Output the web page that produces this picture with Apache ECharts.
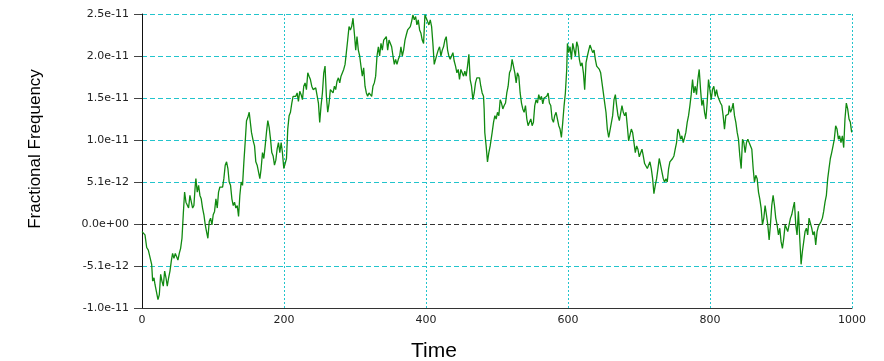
<!DOCTYPE html>
<html>
<head>
<meta charset="utf-8">
<script src="https://cdn.jsdelivr.net/npm/echarts@6/dist/echarts.min.js"></script>
<style>
  html, body { margin: 0; padding: 0; background: #ffffff; }
  #chart { width: 884px; height: 361px; }
</style>
</head>
<body>
<div id="chart"></div>
<script>
// ---- data (values in units of 1e-12) ----
const xTickValues = [0, 200, 400, 600, 800, 1000];
const yTickValues = [-10, -5, 0, 5, 10, 15, 20, 25];
const yTickLabels = ['-1.0e-11', '-5.1e-12', '0.0e+00', '5.1e-12', '1.0e-11', '1.5e-11', '2.0e-11', '2.5e-11'];
const xAxisTitle = 'Time';
const yAxisTitle = 'Fractional Frequency';

// [time, fractional frequency x 1e12]
const freqPoints = [
  [0,-0.9],[4.2,-1.3],[6.6,-2.8],[8.9,-3.1],[11.3,-3.3],[13.6,-4.8],[15.0,-6.8],[16.9,-6.4],[18.3,-7.2],[20.6,-7.4],
  [22.5,-9.0],[24.4,-8.4],[26.3,-6.0],[28.1,-6.8],[30.0,-7.4],[31.9,-5.6],[33.8,-6.4],[35.6,-7.4],[37.5,-6.4],[39.4,-5.6],
  [41.3,-4.4],[43.1,-3.5],[45.0,-4.1],[46.9,-3.5],[48.8,-3.9],[50.6,-4.3],[52.5,-3.5],[54.4,-2.9],[56.3,-1.7],[58.1,1.1],
  [60.0,3.8],[61.9,2.6],[63.8,2.8],[65.6,1.9],[67.5,3.4],[69.4,3.2],[71.3,1.9],[73.1,2.2],[75.0,4.6],[75.9,5.4],
  [77.8,3.8],[79.7,4.6],[81.6,3.4],[83.4,3.0],[85.3,1.9],[87.2,1.1],[89.1,-0.1],[90.9,-0.9],[92.8,-1.7],[94.7,0.3],
  [96.6,0.7],[98.5,-0.1],[100.3,1.1],[102.2,1.5],[104.1,3.0],[106.0,1.9],[107.8,3.8],[109.7,4.4],[111.6,4.2],[113.5,4.4],
  [115.3,5.4],[117.2,7.0],[119.1,7.4],[121.0,6.6],[122.8,5.0],[124.7,4.6],[126.6,3.0],[128.5,2.2],[130.3,2.6],[132.2,1.9],
  [134.1,2.2],[136.0,0.9],[137.8,3.4],[139.7,5.0],[141.6,4.6],[143.5,7.4],[145.3,9.7],[147.2,12.3],[149.1,12.7],[151.0,13.3],
  [154.2,10.9],[156.6,9.9],[158.5,9.3],[160.3,7.4],[162.2,7.0],[164.1,6.2],[166.0,5.4],[167.8,6.6],[169.7,8.5],[171.6,7.8],
  [173.5,9.3],[175.3,10.9],[177.2,12.3],[179.1,11.5],[181.0,10.1],[182.8,8.5],[184.7,8.1],[186.6,7.0],[188.5,7.6],[190.3,8.9],
  [192.2,9.7],[194.1,8.5],[196.0,9.7],[197.8,8.5],[199.7,6.6],[201.6,6.4],[203.5,7.8],[205.3,11.3],[207.2,12.9],[209.1,13.3],
  [211.0,14.4],[212.8,15.2],[214.7,15.4],[216.6,15.2],[218.5,15.6],[220.3,14.6],[222.2,15.8],[224.1,15.4],[226.0,14.8],[227.8,16.4],
  [229.7,16.8],[231.6,16.0],[233.5,18.0],[235.3,17.6],[237.2,17.2],[239.1,16.4],[241.0,16.0],[242.8,15.8],[244.7,16.2],[246.6,16.4],
  [248.5,14.4],[250.3,12.1],[252.2,14.1],[254.1,15.6],[256.0,18.0],[257.8,18.8],[259.7,15.2],[261.6,13.3],[263.5,14.4],[265.3,16.0],
  [267.2,16.2],[269.1,15.6],[271.0,16.4],[272.8,16.0],[274.7,17.0],[276.6,17.4],[278.5,16.8],[280.3,17.6],[282.2,17.4],[284.1,18.4],
  [286.0,19.0],[287.8,20.4],[289.7,21.9],[291.6,23.5],[293.5,23.1],[295.3,23.5],[297.2,24.5],[299.1,22.7],[301.0,20.7],[302.8,22.3],
  [304.7,20.7],[306.6,20.0],[308.4,18.8],[310.3,17.6],[312.2,18.6],[314.1,16.4],[316.0,15.6],[317.8,15.2],[319.7,15.6],[321.6,15.4],
  [323.5,15.2],[325.3,16.4],[327.2,16.8],[329.1,17.6],
  [331.0,20.0],[332.9,21.1],[334.7,20.0],[336.6,21.5],[338.5,20.7],[340.4,21.9],[342.2,22.1],[344.1,22.3],[346.0,20.7],[347.9,21.9],
  [349.7,21.9],[351.6,21.1],[353.5,20.0],[355.4,19.0],[357.2,19.6],[359.1,19.0],[361.0,19.6],[362.9,20.0],[364.7,21.1],[366.6,20.0],
  [368.5,20.7],[370.4,21.9],[372.2,22.5],[374.1,23.1],[376.0,22.9],[377.9,23.5],[379.7,24.1],[381.6,24.9],[383.5,24.3],[385.4,24.7],
  [387.2,23.7],[389.1,24.3],[391.0,23.1],[392.9,22.7],[394.7,21.9],[396.6,21.5],[398.5,24.9],[400.4,24.5],[402.2,24.1],[404.1,23.7],
  [406.0,24.3],[407.9,23.5],[409.7,21.5],[411.6,19.0],[413.5,19.2],[415.4,20.2],[417.2,20.7],[419.1,21.1],[421.0,20.0],[422.9,20.7],
  [424.7,21.1],[426.6,21.9],[428.5,22.3],[430.4,20.7],[432.2,20.0],[434.1,19.6],[436.0,20.0],[437.9,20.4],[439.7,19.4],[441.6,18.8],
  [443.5,18.0],[445.4,18.4],[447.2,17.2],[449.1,18.4],[451.0,18.0],[452.9,17.6],[454.7,18.2],[456.6,17.6],[458.5,18.8],[460.4,20.2],
  [462.2,17.2],[464.1,16.4],[466.0,14.8],[467.9,15.6],[469.7,16.8],[471.6,17.4],[473.5,17.6],[475.4,17.4],[477.2,16.4],[479.1,15.6],
  [481.0,15.2],[481.9,13.7],[482.8,10.9],[484.7,9.3],[486.6,7.4],[488.5,8.5],[490.4,9.3],
  [493.2,10.9],[495.1,12.1],[497.0,12.9],[498.8,12.5],[500.7,13.3],[502.6,12.9],[504.5,14.8],[506.3,14.4],[508.2,13.7],[510.1,14.1],
  [512.0,14.4],[513.8,15.6],[515.7,16.4],[517.6,18.0],[519.5,18.4],[521.3,19.6],[523.2,18.8],[525.1,18.0],[527.0,16.8],[528.8,18.0],
  [530.7,17.6],[532.6,15.6],[534.5,14.4],[536.3,13.7],[538.2,13.3],[540.1,14.1],[542.0,12.5],[543.8,11.7],[545.7,12.1],[547.6,12.5],
  [549.5,11.7],[551.3,12.1],[553.2,14.1],[555.1,14.8],[557.0,14.4],[558.8,15.4],[560.7,14.8],[562.6,15.2],[564.5,14.3],[566.3,15.0],
  [568.2,14.8],[570.1,15.2],[572.0,15.6],[573.8,14.4],[575.7,14.1],[577.6,12.5],[579.5,12.1],[581.3,12.9],[583.2,13.3],[585.1,12.5],
  [587.0,11.7],[588.8,11.3],[590.7,10.3],[592.6,12.1],[594.5,14.1],[596.3,15.6],[598.2,18.4],[599.2,21.5],[601.0,20.4],[602.9,21.1],
  [604.8,19.6],[606.7,21.5],[608.5,21.7],[610.4,20.0],[612.3,21.7],[614.2,21.1],[616.0,19.6],[617.9,18.8],[619.8,19.2],[621.7,18.0],
  [623.5,16.0],[625.4,19.2],[627.3,20.0],[629.2,20.7],[631.0,21.3],[632.9,21.1],[634.8,20.4],[636.7,20.7],[638.5,19.6],[640.4,18.8],
  [642.3,19.0],[644.2,18.4],[646.0,18.0],[647.9,16.8],[649.8,15.6],[651.7,14.4],[653.5,13.3],[655.4,11.3],[657.3,10.3],
  [658.2,10.7],[660.6,10.9],[662.9,12.9],[664.8,14.8],[666.7,15.4],[668.5,14.1],[670.4,12.9],[672.3,12.3],[674.2,12.1],[676.0,14.1],
  [677.9,13.3],[679.8,12.9],[681.7,13.3],[683.5,11.7],[685.4,9.9],[687.3,10.1],[689.2,11.3],[691.0,10.9],[692.9,9.7],[694.8,8.5],
  [696.7,9.3],[698.5,8.9],[700.4,8.0],[702.3,7.8],[704.2,8.9],[706.0,8.1],[707.9,7.2],[709.8,7.4],[711.7,6.6],[713.5,7.0],
  [715.4,7.4],[717.3,6.6],[719.2,5.4],[721.0,3.6],[722.9,4.6],[724.8,5.4],[726.7,6.6],[728.5,7.8],[730.4,7.0],[732.3,6.2],
  [734.2,5.4],[736.0,5.0],[737.9,5.4],[739.8,5.0],[741.7,6.6],[743.5,7.4],[745.4,7.6],[747.3,7.8],[749.2,8.1],[751.0,8.9],
  [752.9,9.7],[754.8,11.3],[756.7,10.9],[758.5,10.1],[760.4,10.5],[762.3,9.7],[764.2,10.3],[766.0,10.9],[767.9,12.1],[769.8,12.9],
  [771.7,14.1],[773.5,15.4],[775.4,17.2],[777.3,15.6],[779.2,16.4],[781.0,15.4],[782.9,17.2],[784.8,18.4],[786.7,16.0],[788.5,14.1],
  [790.4,14.8],[792.3,13.3],[794.2,12.5],[796.0,14.4],[797.9,17.2],[799.8,16.0],[801.7,14.8],[803.5,16.0],[805.4,16.4],[807.3,15.2],
  [809.2,16.0],[811.0,15.2],[812.9,14.8],[814.8,14.4],[816.7,14.1],[818.5,12.9],[820.4,11.3],[822.3,12.9],[824.2,12.9],[826.0,13.1],
  [827.0,14.1],[828.9,13.3],[830.8,13.7],[832.6,14.4],[834.5,12.9],[836.4,12.1],[838.3,10.9],[840.1,10.1],[842.0,8.1],[843.9,6.6],
  [845.8,10.1],[847.6,9.7],[849.5,8.5],[851.4,9.7],[853.3,10.1],[855.1,9.7],[857.0,9.9],[858.9,8.9],[860.8,6.6],[862.6,5.0],
  [864.5,5.8],[866.4,5.4],[868.3,3.8],[870.1,3.0],[872.0,1.9],[873.9,-0.1],[875.8,0.7],[877.6,2.2],[879.5,1.1],[881.4,-0.1],
  [883.3,-1.9],[885.1,-0.1],[887.0,2.2],[888.9,3.4],[890.8,2.2],[892.6,0.7],[894.5,-0.1],[896.4,-1.3],[898.3,-0.5],[900.1,-2.1],
  [902.0,-2.9],[903.9,-1.7],[905.8,-0.1],[907.6,0.1],[909.5,-0.9],[911.4,-0.1],[913.3,0.7],[915.1,1.1],[917.0,1.9],[918.9,2.6],
  [920.8,-0.1],[922.6,-1.3],[924.5,1.5],[926.4,-1.7],[928.3,-4.8],[930.1,-3.3],[932.0,-2.1],[933.9,-0.9],[935.8,-0.5],[937.6,-1.3],
  [939.5,0.7],[941.4,0.9],[943.3,-0.5],[945.1,-1.3],[947.0,-0.9],[948.9,-2.5],[950.8,-0.9],[952.6,-0.3],[954.5,-0.1],[956.4,0.3],
  [958.3,0.7],[960.1,1.5],[962.0,2.6],[963.9,3.4],[965.8,5.4],[967.6,6.6],[969.5,7.8],[971.4,8.5],[973.3,9.3],[975.1,10.1],
  [977.0,11.7],[978.9,11.3],[980.8,10.1],[982.6,10.5],[984.5,9.7],[986.4,10.5],[988.3,9.1],[990.1,12.5],[992.0,14.4],[993.9,13.7],
  [995.8,12.5],[997.7,12.1],[999.5,10.9]
];

// ---- chart ----
const chart = echarts.init(document.getElementById('chart'), null, { renderer: 'canvas' });
const cyan = '#22c4cc';
const zeroLineColor = '#333333';
// colours of the horizontal split lines, one per tick above the axis minimum
const ySplitColors = yTickValues.slice(1).map(v => (v === 0 ? zeroLineColor : cyan));

const option = {
  animation: false,
  backgroundColor: '#ffffff',
  grid: { left: 142, right: 32, top: 14, bottom: 53, containLabel: false, outerBoundsMode: 'none' },
  xAxis: {
    type: 'value',
    min: xTickValues[0],
    max: xTickValues[xTickValues.length - 1],
    interval: xTickValues[1] - xTickValues[0],
    axisLine: { show: true, onZero: false, lineStyle: { color: '#333333', width: 1 } },
    axisTick: { show: false },
    axisLabel: {
      margin: 7, color: '#222222', fontFamily: 'DejaVu Sans', fontSize: 11,
      formatter: v => String(v)
    },
    splitLine: { show: true, showMinLine: false, lineStyle: { color: cyan, type: [2, 2], width: 1 } }
  },
  yAxis: {
    type: 'value',
    min: yTickValues[0],
    max: yTickValues[yTickValues.length - 1],
    interval: yTickValues[1] - yTickValues[0],
    axisLine: { show: true, lineStyle: { color: '#111111', width: 1 } },
    axisTick: { show: true, length: 8, lineStyle: { color: '#444444' } },
    axisLabel: {
      margin: 13, color: '#222222', fontFamily: 'DejaVu Sans', fontSize: 11,
      formatter: v => { const i = yTickValues.indexOf(v); return i >= 0 ? yTickLabels[i] : ''; }
    },
    splitLine: { show: true, showMinLine: false, lineStyle: { color: ySplitColors, type: [5, 3], width: 1 } }
  },
  graphic: [
    {
      type: 'text', x: 35, y: 149, rotation: Math.PI / 2, silent: true,
      style: { text: yAxisTitle, fill: '#000000', font: '17px "Liberation Sans", Arial, sans-serif', align: 'center', verticalAlign: 'middle' }
    },
    {
      type: 'text', x: 434, y: 351, silent: true,
      style: { text: xAxisTitle, fill: '#000000', font: '21px "Liberation Sans", Arial, sans-serif', align: 'center', verticalAlign: 'middle' }
    }
  ],
  series: [
    {
      type: 'line',
      data: freqPoints,
      z: 3,
      showSymbol: false,
      symbol: 'none',
      clip: true,
      lineStyle: { color: '#118a11', width: 1.3 }
    }
  ]
};
chart.setOption(option);
</script>
</body>
</html>
